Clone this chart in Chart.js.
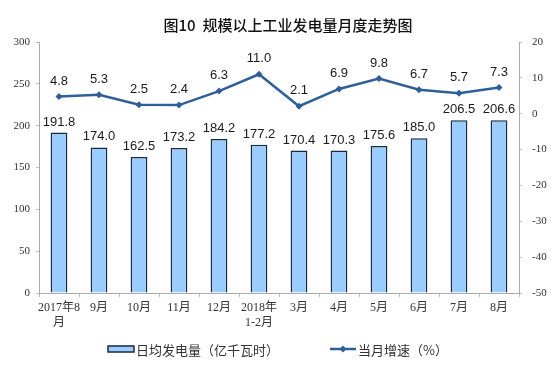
<!DOCTYPE html>
<html><head><meta charset="utf-8">
<script src="https://cdn.jsdelivr.net/npm/chart.js@4/dist/chart.umd.min.js"></script>
<style>html,body{margin:0;padding:0;background:#fff}#wrap{width:560px;height:384px;position:relative}</style>
</head><body><div id="wrap"><canvas id="c" width="560" height="384"></canvas></div>
<script>
const categories = [['2017年8','月'],'9月','10月','11月','12月',['2018年','1-2月'],'3月','4月','5月','6月','7月','8月'];
const dailyOutput = [191.8,174.0,162.5,173.2,184.2,177.2,170.4,170.3,175.6,185.0,206.5,206.6];
const growthRate = [4.8,5.3,2.5,2.4,6.3,11.0,2.1,6.9,9.8,6.7,5.7,7.3];
const seriesNames = ['日均发电量（亿千瓦时）','当月增速（%）'];
const titleText = '图10  规模以上工业发电量月度走势图';

const barFill = '#99CCFF', barBorder = '#1B2A3E', lineColor = '#2F5F98';
const serif = "'Liberation Serif','DejaVu Serif',serif";
const sans = "'Liberation Sans','Noto Sans CJK SC',sans-serif";
const cjk = "'Noto Sans CJK SC',sans-serif";

const labelPlugin = {
  id:'labels',
  afterDatasetsDraw(chart){
    const ctx = chart.ctx;
    ctx.save();
    ctx.font = "13px " + sans;
    ctx.fillStyle = '#1a1a1a';
    ctx.textAlign = 'center';
    ctx.textBaseline = 'bottom';
    chart.getDatasetMeta(1).data.forEach((el,i)=>{
      ctx.fillText(dailyOutput[i].toFixed(1), el.x, el.y - 4);
    });
    chart.getDatasetMeta(0).data.forEach((el,i)=>{
      ctx.fillText(growthRate[i].toFixed(1), el.x, el.y - 9);
    });
    ctx.restore();
  },
  afterDraw(chart){
    const ctx = chart.ctx;
    ctx.save();
    ctx.font = "500 15px " + cjk;
    ctx.fillStyle = '#111';
    ctx.textAlign = 'center';
    ctx.textBaseline = 'middle';
    ctx.fillText(titleText, 288, 25);
    ctx.font = "13px " + cjk;
    ctx.textAlign = 'left';
    const ly = 349;
    ctx.fillStyle = barFill; ctx.strokeStyle = barBorder; ctx.lineWidth = 1.5;
    ctx.fillRect(108, ly-3, 26, 6); ctx.strokeRect(108, ly-3, 26, 6);
    ctx.fillStyle = '#333';
    ctx.fillText(seriesNames[0], 136, ly+1);
    ctx.strokeStyle = lineColor; ctx.lineWidth = 2.5;
    ctx.beginPath(); ctx.moveTo(330, ly); ctx.lineTo(356, ly); ctx.stroke();
    ctx.fillStyle = lineColor;
    ctx.beginPath(); ctx.moveTo(343, ly-3.5); ctx.lineTo(346.5, ly); ctx.lineTo(343, ly+3.5); ctx.lineTo(339.5, ly); ctx.closePath(); ctx.fill();
    ctx.fillStyle = '#333';
    ctx.fillText(seriesNames[1], 358, ly+1);
    ctx.restore();
  }
};

new Chart(document.getElementById('c'), {
  data:{
    labels: categories,
    datasets:[
      {type:'line', label:seriesNames[1], data:growthRate, yAxisID:'y1', borderColor:lineColor, backgroundColor:lineColor,
       borderWidth:2.5, pointStyle:'rectRot', pointRadius:3.5, pointBackgroundColor:lineColor, pointBorderWidth:0, tension:0, order:0},
      {type:'bar', label:seriesNames[0], data:dailyOutput, yAxisID:'y', backgroundColor:barFill, borderColor:barBorder,
       borderWidth:1.5, barPercentage:0.42, categoryPercentage:1, order:1}
    ]
  },
  options:{
    responsive:false, animation:false,
    layout:{padding:{top:42, bottom:0, left:0, right:0}},
    plugins:{legend:{display:false}, title:{display:false}, tooltip:{enabled:false}},
    scales:{
      x:{
        grid:{display:true, drawOnChartArea:false, drawTicks:true, tickLength:4, color:'#bbb', offset:true},
        border:{color:'#aaa'},
        ticks:{font:{size:12, family:"'Liberation Serif','Noto Sans CJK SC',serif"}, color:'#333', maxRotation:0, autoSkip:false, padding:4},
        afterFit(s){ s.height = 91; }
      },
      y:{
        position:'left', min:0, max:300,
        ticks:{stepSize:50, font:{size:11, family:serif}, color:'#333', padding:6},
        grid:{display:true, drawOnChartArea:false, tickLength:3, color:'#bbb'},
        border:{color:'#aaa'},
        afterFit(s){ s.width = 39; }
      },
      y1:{
        position:'right', min:-50, max:20,
        ticks:{stepSize:10, font:{size:11, family:serif}, color:'#333', padding:10},
        grid:{display:true, drawOnChartArea:false, tickLength:3, color:'#bbb'},
        border:{color:'#aaa'},
        afterFit(s){ s.width = 41; }
      }
    }
  },
  plugins:[labelPlugin]
});
</script></body></html>
